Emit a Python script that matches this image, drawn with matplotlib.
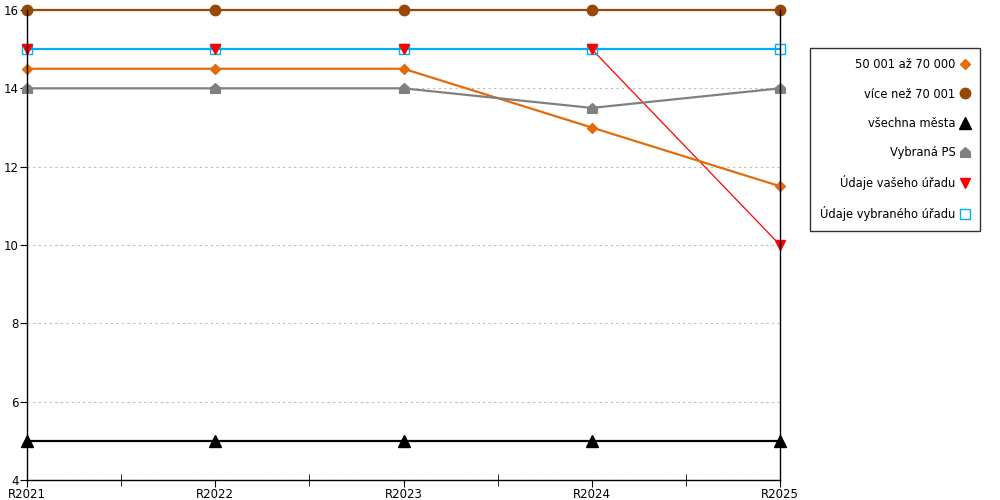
import matplotlib
matplotlib.use("Agg")
import matplotlib.pyplot as plt
from matplotlib.path import Path

years = ["R2021", "R2022", "R2023", "R2024", "R2025"]
skupina_50_70 = [14.5, 14.5, 14.5, 13.0, 11.5]
vice_nez_70 = [16, 16, 16, 16, 16]
vsechna_mesta = [5, 5, 5, 5, 5]
vybrana_ps = [14, 14, 14, 13.5, 14]
vas_urad = [15, 15, 15, 15, 10]
vybrany_urad = [15, 15, 15, 15, 15]

y_ticks = [4, 6, 8, 10, 12, 14, 16]

# house shaped marker for "Vybraná PS"
house = Path([(-1, -1), (1, -1), (1, 0.1), (0, 1), (-1, 0.1), (-1, -1)],
             [Path.MOVETO, Path.LINETO, Path.LINETO, Path.LINETO, Path.LINETO, Path.CLOSEPOLY])


def main():
    plt.rcParams["font.family"] = "DejaVu Sans"
    fig = plt.figure(figsize=(10, 5), dpi=100)
    ax = fig.add_axes([0.027, 0.04, 0.753, 0.94])

    x = list(range(len(years)))

    ax.plot(x, skupina_50_70, color="#E36C0A", lw=1.6, marker="D", ms=5.5,
            label="50 001 až 70 000", clip_on=False, zorder=3)
    ax.plot(x, vice_nez_70, color="#974806", lw=1.6, marker="o", ms=7.5,
            label="více než 70 001", clip_on=False, zorder=3)
    ax.plot(x, vsechna_mesta, color="black", lw=1.6, marker="^", ms=8,
            label="všechna města", clip_on=False, zorder=3)
    ax.plot(x, vybrana_ps, color="#808080", lw=1.6, marker=house, ms=7,
            label="Vybraná PS", clip_on=False, zorder=3)
    # red line sits under the blue one, its markers on top
    ax.plot(x, vas_urad, color="#FF0000", lw=0.9, clip_on=False, zorder=2.5)
    ax.plot(x, vas_urad, color="#FF0000", ls="none", marker="v", ms=7,
            label="Údaje vašeho úřadu", clip_on=False, zorder=5)
    ax.plot(x, vybrany_urad, color="#00B0F0", lw=1.6, marker="s", ms=7,
            mfc="none", mec="#00B0F0", mew=1.0,
            label="Údaje vybraného úřadu", clip_on=False, zorder=4)

    ax.set_xlim(0, len(years) - 1)
    ax.set_ylim(4, 16)
    ax.set_xticks(x)
    ax.set_xticklabels(years, fontsize=8.5)
    ax.set_xticks([i + 0.5 for i in range(len(years) - 1)], minor=True)
    ax.tick_params(axis="x", which="major", length=5, direction="out", pad=1)
    ax.tick_params(axis="x", which="minor", length=9, direction="inout")
    ax.set_yticks(y_ticks)
    ax.set_yticklabels([str(v) for v in y_ticks], fontsize=8.5)
    ax.tick_params(axis="y", length=5, direction="out", pad=1)
    ax.tick_params(axis="y", which="both", right=False)

    ax.grid(True, axis="y", linestyle=(0, (2, 3)), color="#bbbbbb", lw=0.8)
    ax.set_axisbelow(True)

    for side in ["left", "right", "bottom"]:
        ax.spines[side].set_color("black")
        ax.spines[side].set_linewidth(1.0)
        ax.spines[side].set_zorder(6)
    ax.spines["top"].set_visible(False)

    leg = ax.legend(loc="upper left", bbox_to_anchor=(0.81, 0.904),
                    bbox_transform=fig.transFigure, markerfirst=False,
                    fontsize=8.3, labelspacing=1.4, handlelength=0.8,
                    handletextpad=0.4, borderpad=0.9, fancybox=False,
                    frameon=True, borderaxespad=0)
    leg.get_frame().set_edgecolor("black")
    leg.get_frame().set_linewidth(1.0)
    for h in leg.get_lines():
        h.set_linestyle("none")

    plt.savefig("out.png", dpi=100)
    plt.close()


if __name__ == "__main__":
    main()
